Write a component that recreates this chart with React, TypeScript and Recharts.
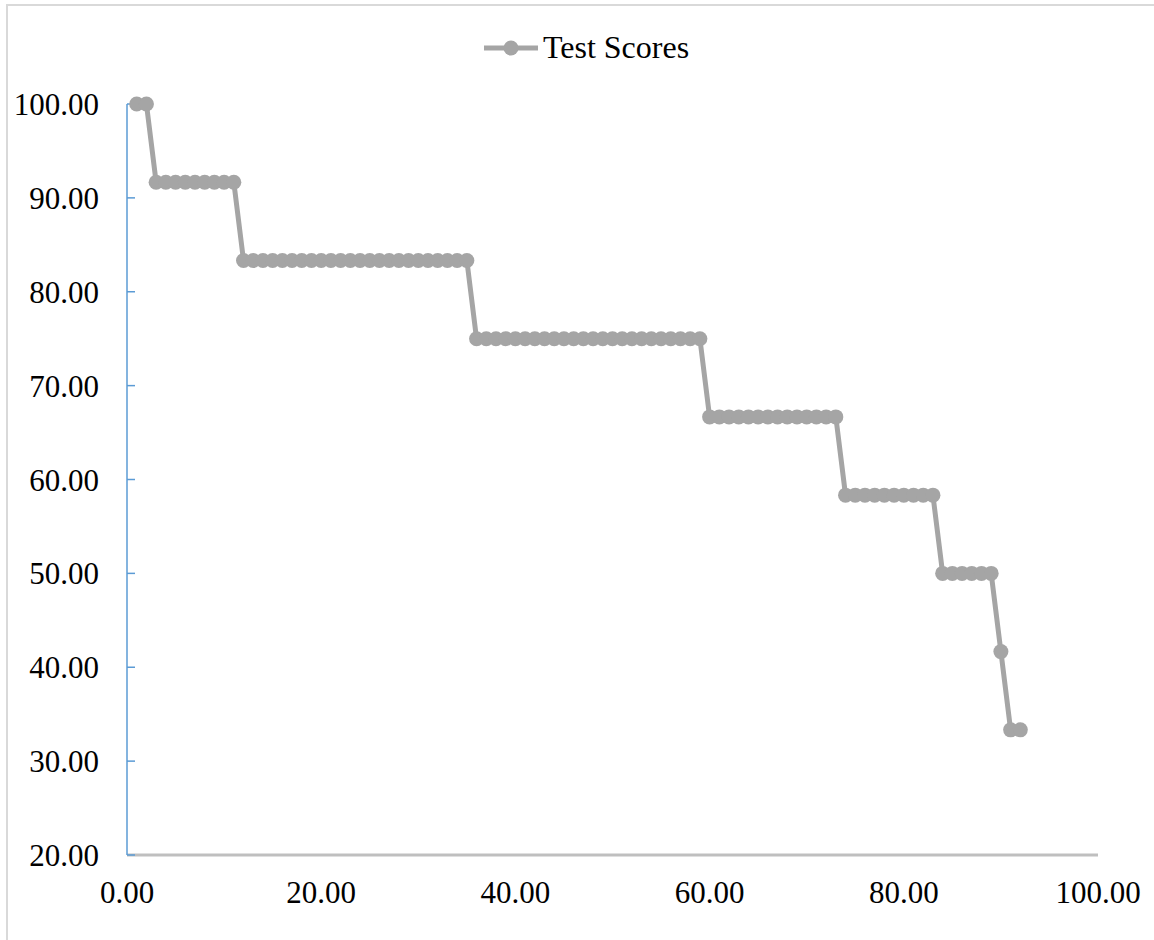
import { LineChart, Line, XAxis, YAxis, Legend } from "recharts";

const ranks = [
  1, 2, 3, 4, 5, 6, 7, 8, 9, 10, 11, 12, 13, 14, 15, 16, 17, 18, 19, 20, 21, 22, 23,
  24, 25, 26, 27, 28, 29, 30, 31, 32, 33, 34, 35, 36, 37, 38, 39, 40, 41, 42, 43, 44,
  45, 46, 47, 48, 49, 50, 51, 52, 53, 54, 55, 56, 57, 58, 59, 60, 61, 62, 63, 64, 65,
  66, 67, 68, 69, 70, 71, 72, 73, 74, 75, 76, 77, 78, 79, 80, 81, 82, 83, 84, 85, 86,
  87, 88, 89, 90, 91, 92,
];

const scores = [
  100, 100,
  91.67, 91.67, 91.67, 91.67, 91.67, 91.67, 91.67, 91.67, 91.67,
  83.33, 83.33, 83.33, 83.33, 83.33, 83.33, 83.33, 83.33, 83.33, 83.33, 83.33, 83.33,
  83.33, 83.33, 83.33, 83.33, 83.33, 83.33, 83.33, 83.33, 83.33, 83.33, 83.33, 83.33,
  75, 75, 75, 75, 75, 75, 75, 75, 75, 75, 75, 75,
  75, 75, 75, 75, 75, 75, 75, 75, 75, 75, 75, 75,
  66.67, 66.67, 66.67, 66.67, 66.67, 66.67, 66.67, 66.67, 66.67, 66.67, 66.67, 66.67,
  66.67, 66.67,
  58.33, 58.33, 58.33, 58.33, 58.33, 58.33, 58.33, 58.33, 58.33, 58.33,
  50, 50, 50, 50, 50, 50,
  41.67,
  33.33, 33.33,
];

const xTicks = [0, 20, 40, 60, 80, 100];
const yTicks = [20, 30, 40, 50, 60, 70, 80, 90, 100];

const data = ranks.map((r, i) => ({ rank: r, score: scores[i] }));

const font = "'Liberation Serif', 'Times New Roman', serif";
const lineColor = "#A5A5A5";

const LegendBox = () => (
  <div
    style={{
      display: "flex",
      alignItems: "center",
      justifyContent: "center",
      paddingLeft: 74,
      paddingTop: 3,
    }}
  >
    <svg width={56} height={20}>
      <line x1={1} y1={10} x2={55} y2={10} stroke={lineColor} strokeWidth={5} />
      <circle cx={28} cy={10} r={7.5} fill={lineColor} />
    </svg>
    <span style={{ fontFamily: font, fontSize: 32, color: "#000", marginLeft: 4 }}>
      Test Scores
    </span>
  </div>
);

export default function App() {
  return (
    <div style={{ position: "absolute", left: 0, top: 0, width: 1154, height: 940, background: "#fff" }}>
      <div
        style={{
          position: "absolute",
          left: 6,
          top: 4,
          width: 1160,
          height: 960,
          border: "2px solid #D9D9D9",
          boxSizing: "border-box",
        }}
      />
      <div style={{ position: "absolute", left: 0, top: 0 }}>
        <LineChart
          width={1154}
          height={940}
          data={data}
          margin={{ top: 26, right: 56, bottom: 0, left: 0 }}
        >
          <Legend verticalAlign="top" height={78} content={() => <LegendBox />} />
          <XAxis
            dataKey="rank"
            type="number"
            domain={[0, 100]}
            ticks={xTicks}
            interval={0}
            height={85}
            tickFormatter={(v: number) => v.toFixed(2)}
            tick={{ fill: "#000", fontSize: 31, fontFamily: font }}
            tickLine={false}
            tickSize={0}
            tickMargin={26}
            axisLine={{ stroke: "#BFBFBF", strokeWidth: 3 }}
          />
          <YAxis
            type="number"
            domain={[20, 100]}
            ticks={yTicks}
            interval={0}
            width={127}
            tickFormatter={(v: number) => v.toFixed(2)}
            tick={{ fill: "#000", fontSize: 31, fontFamily: font }}
            tickSize={-8}
            tickMargin={36}
            tickLine={{ stroke: "#5B9BD5", strokeWidth: 1.5 }}
            axisLine={{ stroke: "#5B9BD5", strokeWidth: 1.5 }}
          />
          <Line
            type="linear"
            dataKey="score"
            name="Test Scores"
            stroke={lineColor}
            strokeWidth={5}
            dot={{ r: 7.5, fill: lineColor, stroke: "none" }}
            activeDot={false}
            isAnimationActive={false}
          />
        </LineChart>
      </div>
    </div>
  );
}
